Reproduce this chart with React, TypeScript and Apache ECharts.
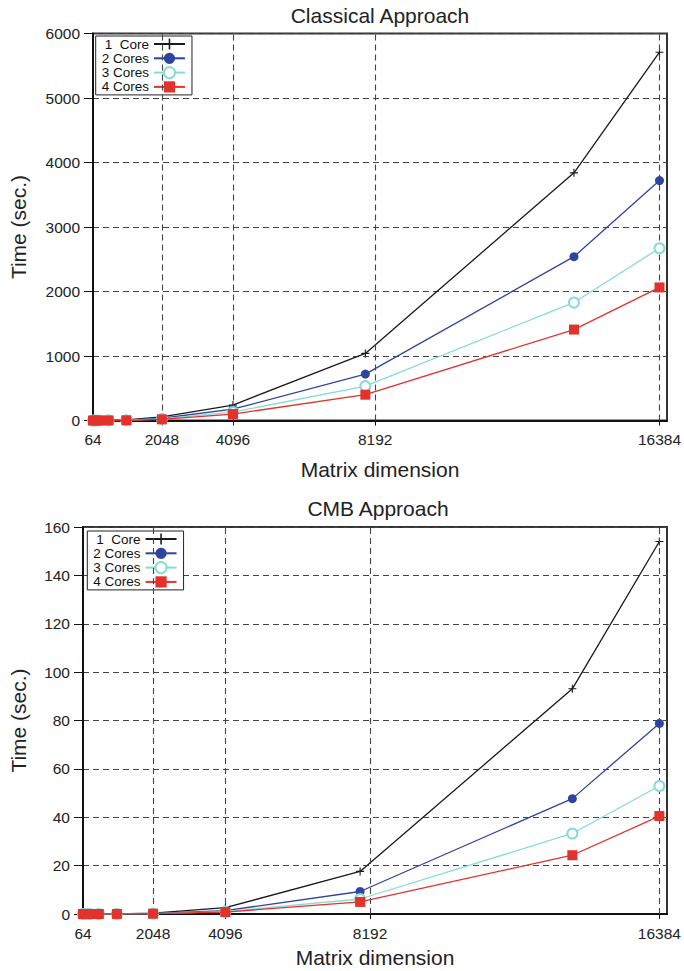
import { useEffect, useRef } from "react";
import * as echarts from "echarts";

// ---- data ----
const matrixDims = [64, 128, 256, 512, 1024, 2048, 4096, 7910, 13920, 16384];
const xTickValues = [64, 2048, 4096, 8192, 16384];
const xGridValues = [2048, 4096, 8192, 16384];
const seriesNames = ["1  Core", "2 Cores", "3 Cores", "4 Cores"];

const classical1Core = [0, 0, 1, 2, 8, 55, 240, 1040, 3840, 5710];
const classical2Cores = [0, 0, 0.5, 1.5, 5, 35, 175, 720, 2540, 3720];
const classical3Cores = [0, 0, 0.3, 1, 4, 25, 130, 533, 1830, 2670];
const classical4Cores = [0, 0, 0.3, 1, 3, 18, 100, 400, 1410, 2063];

const cmb1Core = [0, 0, 0, 0.01, 0.05, 0.35, 2.6, 17.6, 93.1, 154];
const cmb2Cores = [0, 0, 0, 0, 0.03, 0.2, 1.4, 9.3, 47.7, 78.8];
const cmb3Cores = [0, 0, 0, 0, 0.02, 0.15, 1.0, 6.2, 33.3, 52.9];
const cmb4Cores = [0, 0, 0, 0, 0.02, 0.12, 0.8, 5.0, 24.3, 40.5];

const FONT = "'Liberation Sans', Arial, Helvetica, sans-serif";
const colors = ["#1a1a1a", "#2f43a0", "#86dcd4", "#e3312b"];
const plusPath = "path://M4.3,0H5.7V4.3H10V5.7H5.7V10H4.3V5.7H0V4.3H4.3Z";
const symbols = [plusPath, "circle", "emptyCircle", "rect"];
const symbolSizes = [8, 9, 10, 10];

const plainNumber = (v: number) => String(v);

function buildSeries(values: number[][], gridIdx: number) {
  const out: any[] = values.map((vals, i) => ({
    type: "line",
    name: seriesNames[i],
    xAxisIndex: gridIdx,
    yAxisIndex: gridIdx,
    data: matrixDims.map((x, j) => [x, vals[j]]),
    symbol: symbols[i],
    symbolSize: symbolSizes[i],
    showAllSymbol: true,
    color: colors[i],
    lineStyle: { color: colors[i], width: 1.3 },
    itemStyle: {
      color: colors[i],
      borderColor: colors[i],
      borderWidth: i === 2 ? 1.3 : 0,
    },
    z: 3 + i,
  }));
  out.push({
    type: "line",
    name: "grid-" + gridIdx,
    xAxisIndex: gridIdx,
    yAxisIndex: gridIdx,
    data: [[64, 0]],
    showSymbol: false,
    lineStyle: { opacity: 0 },
    z: 1,
    silent: true,
    markLine: {
      silent: true,
      symbol: ["none", "none"],
      label: { show: false },
      lineStyle: { type: [6, 4], color: "#444", width: 1.1 },
      data: xGridValues.map((v) => ({ xAxis: v })),
    },
  });
  return out;
}

function xAxisCfg(gridIdx: number, nameGap: number) {
  return {
    type: "value",
    gridIndex: gridIdx,
    min: 64,
    max: 16600,
    axisLine: { show: true, onZero: false, lineStyle: { color: "#111", width: 2 } },
    axisTick: {
      show: true,
      customValues: xTickValues,
      length: 5,
      lineStyle: { color: "#111", width: 1 },
    },
    axisLabel: {
      customValues: xTickValues,
      formatter: plainNumber,
      fontSize: 15.5,
      color: "#222",
      margin: 11,
      fontFamily: FONT,
    },
    splitLine: { show: false },
    name: "Matrix dimension",
    nameLocation: "middle",
    nameGap,
    nameTextStyle: { fontSize: 21, color: "#222", fontFamily: FONT },
  };
}

function yAxisCfg(gridIdx: number, max: number, interval: number, nameGap: number) {
  return {
    type: "value",
    gridIndex: gridIdx,
    min: 0,
    max,
    interval,
    axisLine: { show: true, lineStyle: { color: "#111", width: 2 } },
    axisTick: { show: true, length: 9, lineStyle: { color: "#111", width: 1 } },
    axisLabel: {
      formatter: plainNumber,
      fontSize: 15.5,
      color: "#222",
      margin: 13,
      fontFamily: FONT,
    },
    splitLine: { show: true, lineStyle: { type: [6, 4], color: "#444", width: 1.1 } },
    name: "Time (sec.)",
    nameLocation: "middle",
    nameGap,
    nameTextStyle: { fontSize: 21, color: "#222", fontFamily: FONT },
  };
}

function legendCfg(left: number, top: number) {
  return {
    show: true,
    orient: "vertical",
    left,
    top,
    align: "right",
    data: seriesNames,
    selectedMode: false,
    itemWidth: 31,
    itemHeight: 14,
    itemGap: 0.3,
    padding: [1, 6, 1, 6],
    backgroundColor: "#fff",
    borderColor: "#222",
    borderWidth: 1,
    textStyle: {
      fontSize: 13.5,
      color: "#111",
      fontFamily: FONT,
    },
  };
}

export default function App() {
  const ref = useRef<HTMLDivElement>(null);
  useEffect(() => {
    if (!ref.current) return;
    const chart = echarts.init(ref.current, undefined, { renderer: "svg" });
    chart.setOption({
      animation: false,
      backgroundColor: "#fff",
      textStyle: { fontFamily: FONT },
      grid: [
        {
          left: 89, top: 33.5, width: 578, height: 387,
          show: true, borderColor: "#333", borderWidth: 2, backgroundColor: "transparent",
        },
        {
          left: 83, top: 527, width: 584, height: 387,
          show: true, borderColor: "#333", borderWidth: 2, backgroundColor: "transparent",
        },
      ],
      xAxis: [xAxisCfg(0, 38), xAxisCfg(1, 33)],
      yAxis: [yAxisCfg(0, 6000, 1000, 64), yAxisCfg(1, 160, 20, 54)],
      legend: [legendCfg(95.7, 36), legendCfg(87.3, 531)],
      graphic: [
        {
          type: "text", x: 380, y: 15.5,
          style: {
            text: "Classical Approach", align: "center", verticalAlign: "middle",
            fontSize: 21, fontFamily: FONT, fill: "#222",
          },
        },
        {
          type: "text", x: 378, y: 508,
          style: {
            text: "CMB Approach", align: "center", verticalAlign: "middle",
            fontSize: 21, fontFamily: FONT, fill: "#222",
          },
        },
      ],
      series: [
        ...buildSeries([classical1Core, classical2Cores, classical3Cores, classical4Cores], 0),
        ...buildSeries([cmb1Core, cmb2Cores, cmb3Cores, cmb4Cores], 1),
      ],
    });
    return () => chart.dispose();
  }, []);
  return (
    <div
      ref={ref}
      style={{ position: "fixed", left: 0, top: 0, width: 684, height: 971, background: "#fff" }}
    />
  );
}
